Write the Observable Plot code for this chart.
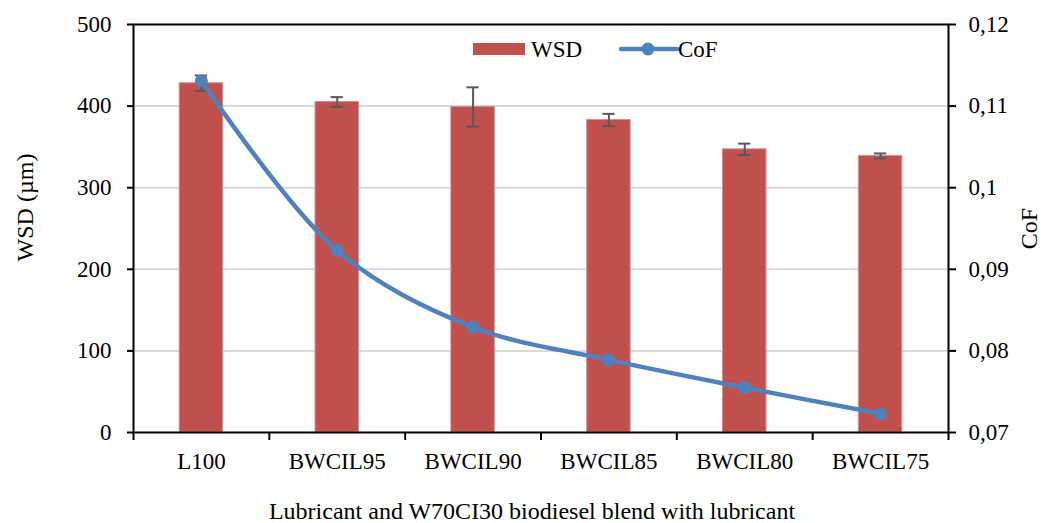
<!DOCTYPE html>
<html>
<head>
<meta charset="utf-8">
<script src="https://cdn.jsdelivr.net/npm/d3@7"></script>
<script src="https://cdn.jsdelivr.net/npm/@observablehq/plot@0.6"></script>
<style>
  body { margin: 0; background: #fff; }
  #chart { position: relative; width: 1041px; height: 523px; }
  #chart svg, #chart svg text { font-family: "Liberation Serif", "Times New Roman", serif !important; }
</style>
</head>
<body>
<div id="chart"></div>
<script>
const categories = ["L100", "BWCIL95", "BWCIL90", "BWCIL85", "BWCIL80", "BWCIL75"];
const wsd = [428, 405, 399, 383, 347, 339];
const wsdErr = [9.5, 6, 24, 7.5, 7, 3];
const cof = [0.1131, 0.0923, 0.0829, 0.0789, 0.0755, 0.0723];
const wsdTicks = [0, 100, 200, 300, 400, 500];
const cofMin = 0.07, cofMax = 0.12;
const xTitle = "Lubricant and W70CI30 biodiesel blend with lubricant";
const yTitle = "WSD (µm)";
const y2Title = "CoF";

const font = "Liberation Serif, Times New Roman, serif";
const red = "#C0504D", blue = "#4F81BD", errColor = "#595959";
const barW = 0.32, capHalf = 0.045;

// map CoF onto the WSD axis range for the secondary axis
const toLeft = v => (v - cofMin) / (cofMax - cofMin) * 500;
const fmtCof = d => String(+(cofMin + d / 500 * (cofMax - cofMin)).toFixed(4)).replace(".", ",");

const rows = categories.map((c, i) => ({
  cat: c, i, pos: i + 0.5, wsd: wsd[i], lo: wsd[i] - wsdErr[i], hi: wsd[i] + wsdErr[i], cof: cof[i], cofY: toLeft(cof[i])
}));

const plot = Plot.plot({
  width: 1041,
  height: 523,
  marginLeft: 133,
  marginRight: 93,
  marginTop: 24,
  marginBottom: 91,
  style: { fontSize: "23px", color: "#000", background: "#fff" },
  x: { domain: [0, categories.length] },
  y: { domain: [0, 500] },
  marks: [
    Plot.gridY([100, 200, 300, 400], { stroke: "#d9d9d9", strokeOpacity: 1, strokeWidth: 2 }),
    Plot.rectY(rows, { x1: d => d.pos - barW / 2, x2: d => d.pos + barW / 2, y: "wsd", fill: red, stroke: "#d58f8d", strokeWidth: 1 }),
    Plot.ruleX(rows, { x: "pos", y1: "lo", y2: "hi", stroke: errColor, strokeWidth: 2 }),
    Plot.ruleY(rows, { y: "lo", x1: d => d.pos - capHalf, x2: d => d.pos + capHalf, stroke: errColor, strokeWidth: 2 }),
    Plot.ruleY(rows, { y: "hi", x1: d => d.pos - capHalf, x2: d => d.pos + capHalf, stroke: errColor, strokeWidth: 2 }),
    Plot.line(rows, { x: "pos", y: "cofY", curve: "catmull-rom", stroke: blue, strokeWidth: 4.5 }),
    Plot.dot(rows, { x: "pos", y: "cofY", r: 6.5, fill: blue, stroke: "none" }),
    Plot.frame({ stroke: "#000", strokeWidth: 2 }),
    Plot.axisY({ anchor: "left", ticks: wsdTicks, tickSize: 6, tickPadding: 16, label: null, stroke: "#000", strokeWidth: 2, fontSize: 23 }),
    Plot.axisY({ anchor: "right", ticks: wsdTicks, tickSize: 7, tickPadding: 13, tickFormat: fmtCof, label: null, strokeWidth: 2, fontSize: 23 }),
    Plot.axisX({ ticks: d3.range(categories.length + 1), tickSize: 8, tickFormat: () => "", label: null, strokeWidth: 2 }),
    Plot.axisX({ ticks: rows.map(d => d.pos), tickSize: 0, tickPadding: 20, tickFormat: d => categories[Math.floor(d)], label: null, fontSize: 23 }),
    Plot.text([xTitle], { frameAnchor: "bottom", dx: -9, dy: 86, fontSize: 24, fill: "#000", lineAnchor: "bottom", textAnchor: "middle" }),
    Plot.text([yTitle], { frameAnchor: "left", dx: -108, dy: -21, rotate: -90, fontSize: 24, fill: "#000", textAnchor: "middle", lineAnchor: "middle" }),
    Plot.text([y2Title], { frameAnchor: "right", dx: 81, dy: 0, rotate: -90, fontSize: 24, fill: "#000", textAnchor: "middle", lineAnchor: "middle" })
  ]
});
plot.setAttribute("font-family", font);

document.getElementById("chart").appendChild(plot);

// legend inside plot area
const svg = d3.select(plot);
const lg = svg.append("g").attr("font-size", 23).attr("text-anchor", "start").attr("fill", "#000");
lg.append("rect").attr("x", 473).attr("y", 43).attr("width", 52).attr("height", 12).attr("fill", red);
lg.append("text").attr("x", 531).attr("y", 57).text("WSD");
lg.append("line").attr("x1", 621).attr("x2", 677).attr("y1", 49).attr("y2", 49).attr("stroke", blue).attr("stroke-width", 4.5).attr("stroke-linecap", "round");
lg.append("circle").attr("cx", 648).attr("cy", 49).attr("r", 6.5).attr("fill", blue);
lg.append("text").attr("x", 678).attr("y", 57).text("CoF");
</script>
</body>
</html>
